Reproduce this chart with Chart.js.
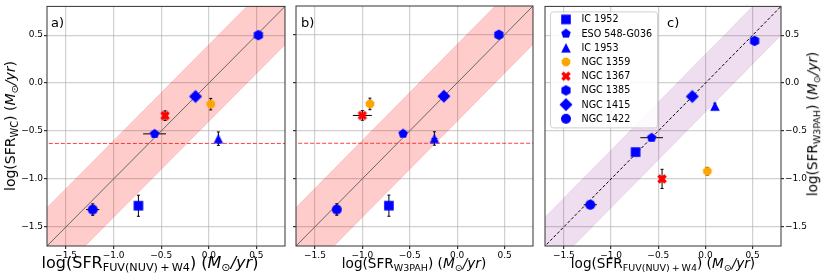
<!DOCTYPE html>
<html>
<head>
<meta charset="utf-8">
<script src="https://cdn.jsdelivr.net/npm/chart.js@4.4.1/dist/chart.umd.min.js"></script>
<style>
  body { margin: 0; background: #fff; }
  #wrap { position: relative; width: 830px; height: 280px; overflow: hidden; font-family: 'DejaVu Sans', sans-serif; color: #000; }
  .panel { position: absolute; top: 0; height: 280px; }
  .lbl { position: absolute; white-space: nowrap; line-height: 1; transform: translate(-50%, -50%); }
  .lbl.rot { transform: translate(-50%, -50%) rotate(-90deg); }
  .lbl sub { font-size: 70%; vertical-align: -0.3em; line-height: 0; }
  .tag { position: absolute; font-size: 13px; line-height: 1; }
</style>
</head>
<body>
<div id="wrap">
  <div class="panel" style="left:0;width:290px"><canvas id="chartA" width="290" height="280"></canvas></div>
  <div class="panel" style="left:290px;width:250px"><canvas id="chartB" width="250" height="280"></canvas></div>
  <div class="panel" style="left:540px;width:290px"><canvas id="chartC" width="290" height="280"></canvas></div>

  <div class="tag" style="left:51px;top:16px">a)</div>
  <div class="tag" style="left:301px;top:16px">b)</div>
  <div class="tag" style="left:667px;top:16px">c)</div>

  <div class="lbl" style="left:150px;top:263px;font-size:16px">log(SFR<sub>FUV(NUV)&#8201;+&#8201;W4</sub>) (<i>M</i><sub>&#8857;</sub><i>/yr</i>)</div>
  <div class="lbl" style="left:414px;top:264px;font-size:13.6px">log(SFR<sub>W3PAH</sub>) (<i>M</i><sub>&#8857;</sub><i>/yr</i>)</div>
  <div class="lbl" style="left:663px;top:264px;font-size:13.6px">log(SFR<sub>FUV(NUV)&#8201;+&#8201;W4</sub>) (<i>M</i><sub>&#8857;</sub><i>/yr</i>)</div>
  <div class="lbl rot" style="left:10px;top:126px;font-size:14px">log(SFR<sub>WC</sub>) (<i>M</i><sub>&#8857;</sub><i>/yr</i>)</div>
  <div class="lbl rot" style="left:813px;top:124px;font-size:13.6px">log(SFR<sub>W3PAH</sub>) (<i>M</i><sub>&#8857;</sub><i>/yr</i>)</div>
</div>

<script>
// galaxies, in legend order
const galaxies = ['IC 1952', 'ESO 548-G036', 'IC 1953', 'NGC 1359', 'NGC 1367', 'NGC 1385', 'NGC 1415', 'NGC 1422']

// log SFR values
const sfrFuvW4 = [-0.74, -0.57, 0.10, 0.02, -0.46, 0.52, -0.14, -1.22]
const errFuvW4 = [0.02, 0.12, 0.02, 0.02, 0.02, 0.02, 0.02, 0.07]
const sfrWC    = [-1.28, -0.53, -0.58, -0.22, -0.34, 0.50, -0.14, -1.32]
const errWC    = [0.11, 0.03, 0.07, 0.06, 0.05, 0.02, 0.03, 0.06]
const sfrW3PAH = [-0.72, -0.57, -0.24, -0.92, -1.00, 0.44, -0.14, -1.27]
const errW3PAH = [0.02, 0.03, 0.03, 0.04, 0.10, 0.02, 0.02, 0.03]

const tickValues = [-1.5, -1.0, -0.5, 0.0, 0.5]
const axisMin = -1.7
const axisMax = 0.8
const wcLimit = -0.63
const bandWC = 0.4
const bandPAH = 0.3
const oneToOne = [-2.5, 1.5]

const markerShapes = ['square', 'pentagon', 'triangle', 'octagon', 'xfilled', 'hexagon', 'diamond', 'circle']
const markerColors = ['#0000ff', '#0000ff', '#0000ff', '#ffa500', '#ff0000', '#0000ff', '#0000ff', '#0000ff']

function polygon(g, n, r, rot) {
  for (let i = 0; i < n; i++) {
    const a = rot + i * 2 * Math.PI / n
    const px = Math.sin(a) * r, py = -Math.cos(a) * r
    if (i) g.lineTo(px, py)
    else g.moveTo(px, py)
  }
  g.closePath()
}

function makeMarker(shape, color) {
  const c = document.createElement('canvas')
  c.width = c.height = 16
  const g = c.getContext('2d')
  g.translate(8, 8)
  g.fillStyle = color
  g.beginPath()
  if (shape === 'square') g.rect(-4.8, -4.8, 9.6, 9.6)
  else if (shape === 'circle') g.arc(0, 0, 5, 0, Math.PI * 2)
  else if (shape === 'diamond') polygon(g, 4, 6.5, 0)
  else if (shape === 'triangle') { g.moveTo(0, -4.8); g.lineTo(4.8, 4.8); g.lineTo(-4.8, 4.8); g.closePath() }
  else if (shape === 'pentagon') polygon(g, 5, 5, 0)
  else if (shape === 'hexagon') polygon(g, 6, 5.3, 0)
  else if (shape === 'octagon') polygon(g, 8, 4.6, Math.PI / 8)
  else if (shape === 'xfilled') {
    const r = 5, a = 1.8
    const pts = [[-a, r], [a, r], [a, a], [r, a], [r, -a], [a, -a], [a, -r], [-a, -r], [-a, -a], [-r, -a], [-r, a], [-a, a]]
    const k = Math.SQRT1_2
    pts.forEach(([px, py], i) => {
      const rx = (px - py) * k, ry = (px + py) * k
      if (i) g.lineTo(rx, ry)
      else g.moveTo(rx, ry)
    })
    g.closePath()
  }
  g.fill()
  return c
}

const markers = markerShapes.map((s, i) => makeMarker(s, markerColors[i]))

const fmt = v => (Math.abs(v) < 1e-9 ? '0.0' : v.toFixed(1).replace('-', '\u2212'))

// error bars drawn just before each galaxy marker
const errorBars = {
  id: 'errorBars',
  beforeDatasetDraw(chart, args) {
    const ds = chart.data.datasets[args.index]
    if (!ds.xErr) return
    const { ctx, chartArea, scales: { x, y } } = chart
    ctx.save()
    ctx.beginPath()
    ctx.rect(chartArea.left, chartArea.top, chartArea.width, chartArea.height)
    ctx.clip()
    ctx.strokeStyle = '#000'
    ctx.lineWidth = 1
    ds.data.forEach((p, j) => {
      const px = x.getPixelForValue(p.x), py = y.getPixelForValue(p.y)
      const x0 = x.getPixelForValue(p.x - ds.xErr[j]), x1 = x.getPixelForValue(p.x + ds.xErr[j])
      const y0 = y.getPixelForValue(p.y - ds.yErr[j]), y1 = y.getPixelForValue(p.y + ds.yErr[j])
      ctx.beginPath()
      ctx.moveTo(x0, py); ctx.lineTo(x1, py)
      ctx.moveTo(px, y0); ctx.lineTo(px, y1)
      ctx.moveTo(px - 1.5, y0); ctx.lineTo(px + 1.5, y0)
      ctx.moveTo(px - 1.5, y1); ctx.lineTo(px + 1.5, y1)
      ctx.stroke()
    })
    ctx.restore()
  }
}

const frame = {
  id: 'frame',
  afterDatasetsDraw(chart) {
    const { ctx, chartArea: a } = chart
    ctx.save()
    ctx.strokeStyle = '#333'
    ctx.lineWidth = 1
    ctx.strokeRect(a.left, a.top, a.width, a.height)
    ctx.restore()
  }
}

const legendBox = {
  id: 'legendBox',
  afterDraw(chart) {
    const { ctx, chartArea } = chart
    const bx = chartArea.left + 5, by = chartArea.top + 5, bw = 107, bh = 116
    ctx.save()
    ctx.beginPath()
    ctx.roundRect(bx + 0.5, by + 0.5, bw, bh, 3)
    ctx.fillStyle = 'rgba(255,255,255,0.85)'
    ctx.fill()
    ctx.strokeStyle = '#d0d0d0'
    ctx.lineWidth = 1
    ctx.stroke()
    ctx.font = '9.6px "DejaVu Sans"'
    ctx.fillStyle = '#000'
    ctx.textBaseline = 'middle'
    galaxies.forEach((name, i) => {
      const cy = by + 8 + i * 14.2
      const m = markers[i]
      ctx.drawImage(m, bx + 16 - m.width / 2, cy - m.height / 2)
      ctx.fillText(name, bx + 31.5, cy + 0.5)
    })
    ctx.restore()
  }
}

function lineSet(offset, color, dash, fill) {
  return {
    type: 'line',
    data: oneToOne.map(v => ({ x: v, y: v + offset })),
    borderColor: color,
    borderWidth: 1,
    borderDash: dash,
    backgroundColor: fill || 'transparent',
    fill: fill ? '+1' : false,
    pointRadius: 0,
    order: 10
  }
}

function buildChart(id, xs, xErr, ys, yErr, opt) {
  const datasets = []
  // shaded band (upper fills down to lower)
  datasets.push(lineSet(opt.band, opt.bandEdge, [], opt.bandFill))
  datasets.push(lineSet(-opt.band, opt.bandEdge, [], null))
  // 1:1 line
  const diag = lineSet(0, opt.diagColor, opt.diagDash, null)
  diag.order = 5
  datasets.push(diag)
  if (opt.limit) {
    datasets.push({
      type: 'line',
      data: oneToOne.map(v => ({ x: v, y: wcLimit })),
      borderColor: 'rgba(255,0,0,0.75)',
      borderWidth: 1,
      borderDash: [4, 2],
      pointRadius: 0,
      fill: false,
      order: 5
    })
  }
  galaxies.forEach((name, i) => {
    datasets.push({
      label: name,
      data: [{ x: xs[i], y: ys[i] }],
      xErr: [xErr[i]],
      yErr: [yErr[i]],
      pointStyle: markers[i],
      order: 0
    })
  })

  const tickFont = { family: 'DejaVu Sans', size: 9 }
  const grid = { color: 'rgba(176,176,176,0.6)', lineWidth: 1.2, drawTicks: true, tickLength: 3, tickColor: '#333' }

  return new Chart(document.getElementById(id), {
    type: 'scatter',
    data: { datasets },
    options: {
      responsive: false,
      animation: false,
      events: [],
      layout: { padding: opt.padding },
      plugins: { legend: { display: false }, tooltip: { enabled: false } },
      scales: {
        x: {
          type: 'linear', min: axisMin, max: axisMax,
          afterBuildTicks: s => { s.ticks = tickValues.map(v => ({ value: v })) },
          afterFit: s => { s.height = 34 },
          grid, border: { display: false },
          ticks: { font: tickFont, color: '#000', padding: 1, maxRotation: 0, callback: fmt }
        },
        y: {
          type: 'linear', min: axisMin, max: axisMax,
          position: opt.yPos,
          afterBuildTicks: s => { s.ticks = tickValues.map(v => ({ value: v })) },
          afterFit: s => { s.width = opt.yWidth },
          grid, border: { display: false },
          ticks: { display: opt.yLabels, font: tickFont, color: '#000', padding: 1, callback: fmt }
        }
      }
    },
    plugins: opt.legend ? [errorBars, frame, legendBox] : [errorBars, frame]
  })
}

const redBand = { band: bandWC, bandFill: 'rgba(255,0,0,0.2)', bandEdge: 'rgba(255,0,0,0.15)', diagColor: '#666', diagDash: [], limit: true }

buildChart('chartA', sfrFuvW4, errFuvW4, sfrWC, errWC,
  Object.assign({}, redBand, { padding: { top: 6, right: 5, left: 0, bottom: 0 }, yPos: 'left', yWidth: 47, yLabels: true }))

buildChart('chartB', sfrW3PAH, errW3PAH, sfrWC, errWC,
  Object.assign({}, redBand, { padding: { top: 6, right: 7, left: 0, bottom: 0 }, yPos: 'left', yWidth: 6, yLabels: false }))

buildChart('chartC', sfrFuvW4, errFuvW4, sfrW3PAH, errW3PAH, {
  band: bandPAH, bandFill: 'rgba(128,0,128,0.13)', bandEdge: 'rgba(128,0,128,0.1)',
  diagColor: '#000', diagDash: [3, 2], limit: false,
  padding: { top: 6, right: 0, left: 5, bottom: 0 }, yPos: 'right', yWidth: 49, yLabels: true, legend: true
})
</script>
</body>
</html>
